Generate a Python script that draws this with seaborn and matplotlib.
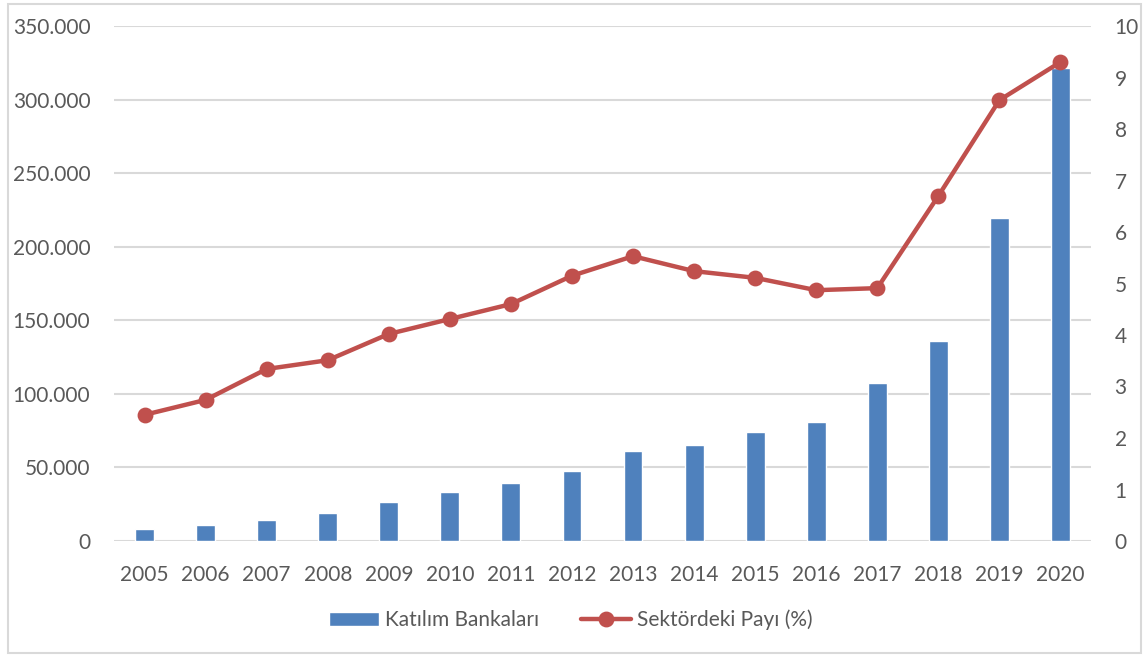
import matplotlib
matplotlib.use("Agg")
import matplotlib.pyplot as plt
from matplotlib.patches import Rectangle
from matplotlib.ticker import FuncFormatter, MultipleLocator
import seaborn as sns
import pandas as pd

years = [str(y) for y in range(2005, 2021)]
katilim_bankalari = [8200, 10900, 14600, 18700, 26200, 33300, 39400, 47600,
                     61200, 65000, 73900, 81100, 107200, 135900, 219800, 321300]
sektordeki_payi = [2.45, 2.74, 3.34, 3.51, 4.02, 4.31, 4.60, 5.15,
                   5.53, 5.24, 5.11, 4.87, 4.91, 6.70, 8.56, 9.30]

bar_label = "Katılım Bankaları"
line_label = "Sektördeki Payı (%)"

df = pd.DataFrame({"yil": years, "tutar": katilim_bankalari, "pay": sektordeki_payi})

sns.set_theme(style="white")
plt.rcParams["font.family"] = ["Lato", "DejaVu Sans"]
text_color = "#595959"
grid_color = "#D9D9D9"
blue = "#4F81BD"
red = "#C0504D"

fig = plt.figure(figsize=(11.46, 6.57), dpi=100)
ax = fig.add_axes([114 / 1146, 1 - 541 / 657, 977 / 1146, 515 / 657])

sns.barplot(data=df, x="yil", y="tutar", color=blue, saturation=1, width=0.31,
            ax=ax, label=bar_label, zorder=2)
ax.set_ylim(0, 350000)
ax.yaxis.set_major_locator(MultipleLocator(50000))
ax.yaxis.set_major_formatter(FuncFormatter(lambda v, p: f"{int(v):,}".replace(",", ".")))
ax.grid(axis="y", color=grid_color, linewidth=1.5, zorder=0)
ax.set_axisbelow(True)
ax.set_xlabel("")
ax.set_ylabel("")

ax2 = ax.twinx()
sns.pointplot(data=df, x="yil", y="pay", color=red, markers="o", linestyles="-",
              ax=ax2, label=line_label, markersize=9, linewidth=3.2)
ax2.set_ylim(0, 10)
ax2.yaxis.set_major_locator(MultipleLocator(1))
ax2.set_ylabel("")
ax.set_xlim(-0.5, len(years) - 0.5)
ax2.set_xlim(-0.5, len(years) - 0.5)

for a in (ax, ax2):
    for s in a.spines.values():
        s.set_visible(False)
    a.tick_params(length=0, labelsize=15, labelcolor=text_color)
ax.tick_params(axis="y", pad=17)
ax.tick_params(axis="x", pad=17)
ax2.tick_params(axis="y", pad=17)
for t in ax2.get_yticklabels():
    t.set_horizontalalignment("left")

h1, l1 = ax.get_legend_handles_labels()
h2, l2 = ax2.get_legend_handles_labels()
if ax2.get_legend():
    ax2.get_legend().remove()
if ax.get_legend():
    ax.get_legend().remove()
leg = fig.legend(h1 + h2, l1 + l2, loc="center", bbox_to_anchor=(0.498, 1 - 620 / 657),
                 ncol=2, frameon=False, fontsize=15, handlelength=2.4,
                 handletextpad=0.3, columnspacing=2.0)
for t in leg.get_texts():
    t.set_color(text_color)

fig.patches.append(Rectangle((8 / 1146, 4 / 657), 1133 / 1146, 649 / 657,
                             transform=fig.transFigure, fill=False,
                             edgecolor=grid_color, linewidth=1.5))

fig.savefig("out.png", dpi=100, facecolor="white")
